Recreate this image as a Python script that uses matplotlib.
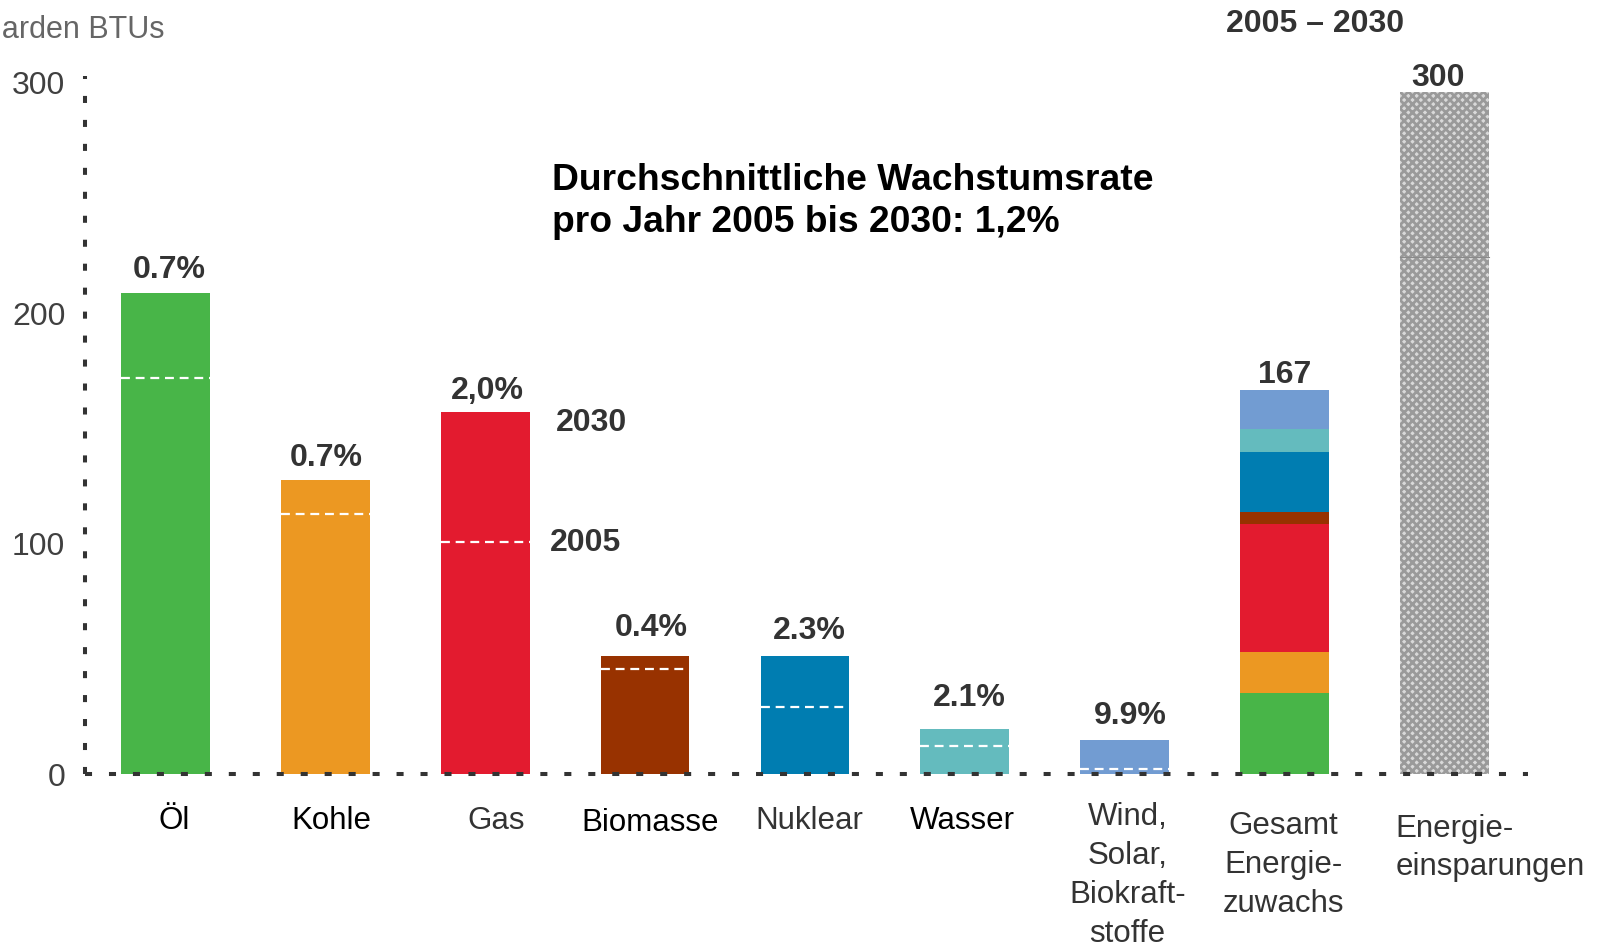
import matplotlib
matplotlib.use("Agg")
import matplotlib.pyplot as plt
import numpy as np

plt.rcParams['font.family'] = ['Liberation Sans', 'DejaVu Sans']
plt.rcParams['hatch.linewidth'] = 2.0

# ---------------- data ----------------
categories = ["Öl", "Kohle", "Gas", "Biomasse", "Nuklear", "Wasser",
              "Wind,\nSolar,\nBiokraft-\nstoffe", "Gesamt\nEnergie-\nzuwachs",
              "Energie-\neinsparungen"]
values_2030 = [209, 127.6, 157.3, 51.4, 51.4, 19.9, 15.0]
values_2005 = [172, 113, 101, 45.6, 29.2, 12.4, 2.2]
growth_labels = ["0.7%", "0.7%", "2,0%", "0.4%", "2.3%", "2.1%", "9.9%"]
colors = ["#48B548", "#EC9822", "#E31B2F", "#983200", "#007DB1", "#64BBBE", "#729CD2"]
total_growth_segments = [35.4, 17.8, 55.3, 5.4, 26.1, 9.8, 16.8]   # Öl, Kohle, Gas, Biomasse, Nuklear, Wasser, Wind
total_growth_label = "167"
savings_segments = [224.6, 71.6]
savings_label = "300"
yticks = [0, 100, 200, 300]

# ---------------- figure ----------------
fig = plt.figure(figsize=(16.02, 9.46), dpi=100)
ax = fig.add_axes([0.0529, 0.1813, 0.9006, 0.7312])
x = np.arange(len(categories))
w = 0.555

# individual source bars
ax.bar(x[:7], values_2030, width=w, color=colors, zorder=1)
for xi, v in zip(x[:7], values_2005):
    ax.plot([xi - w / 2, xi + w / 2], [v, v], color="white", lw=1.6,
            ls=(0, (4, 2.6)), zorder=2, solid_capstyle="butt")

# stacked total growth
bottom = 0
for seg, c in zip(total_growth_segments, colors):
    ax.bar(x[7], seg, bottom=bottom, width=w, color=c, zorder=1)
    bottom += seg

# energy savings (hatched)
bottom = 0
for seg in savings_segments:
    ax.bar(x[8], seg, bottom=bottom, width=w, facecolor="#d9d9d9",
           hatch="xxxx", edgecolor="#9a9a9a", linewidth=0, zorder=1)
    bottom += seg
ax.plot([x[8] - w / 2, x[8] + w / 2], [savings_segments[0]] * 2,
        color="#8a8a8a", lw=0.8, zorder=2)

# value labels above bars
lab_x_off = [4, 1, 2, 6, 4, 4, 6, 0, -6]
lab_y_off = [14, 14, 13, 20, 17, 22, 16, 7, 5]
tops = values_2030 + [sum(total_growth_segments), sum(savings_segments)]
labels = growth_labels + [total_growth_label, savings_label]
for xi, t, lab, dx, dy in zip(x, tops, labels, lab_x_off, lab_y_off):
    ax.annotate(lab, xy=(xi, t), xytext=(dx * 0.735, dy * 0.735),
                textcoords="offset points", ha="center", va="baseline",
                fontsize=23, fontweight="bold", color="#333333", zorder=6)

# axes styling
ax.set_xlim(-0.505, 8.52)
ax.set_ylim(0, 300)
for s in ax.spines.values():
    s.set_visible(False)
ax.axhline(0, color="#333333", lw=2.9, ls=(0, (1.75, 4.2)), zorder=5,
           clip_on=False, dash_capstyle="butt")
ax.axvline(-0.505, color="#333333", lw=2.9, ls=(0, (1.75, 4.2)), zorder=5,
           clip_on=False, dash_capstyle="butt", ymax=1.01)
ax.set_yticks(yticks)
ax.set_yticklabels([str(t) for t in yticks], fontsize=23, color="#404040")
ax.tick_params(axis="y", length=0, pad=14)
ax.set_xticks([])

# category labels
xl_colors = ["black", "black", "#333333", "black", "#333333", "black",
             "#333333", "#333333", "#333333"]
xl_dx = [9, 6, 11, 5, 4, -2, 3, -1, -48]
xl_dy = [-46, -46, -46, -48, -46, -46, -99, -89, -72]
for i, (xi, lab) in enumerate(zip(x, categories)):
    ha = "left" if i == 8 else "center"
    ax.annotate(lab, xy=(xi, 0), xytext=(xl_dx[i] * 0.735, xl_dy[i] * 0.735),
                textcoords="offset points", ha=ha, va="center",
                multialignment="left" if i == 8 else "center",
                fontsize=22.5, color=xl_colors[i], linespacing=1.39,
                annotation_clip=False)

# annotations
ax.text(2.417, 248.5, "Durchschnittliche Wachstumsrate\npro Jahr 2005 bis 2030: 1,2%",
        fontsize=26.8, fontweight="bold", color="black", ha="left", va="center",
        linespacing=1.26)
ax.text(2.442, 152.3, "2030", fontsize=23, fontweight="bold", color="#333333",
        ha="left", va="center")
ax.text(2.404, 100.2, "2005", fontsize=23, fontweight="bold", color="#333333",
        ha="left", va="center")
ax.text(7.193, 325.5, "2005 – 2030", fontsize=23, fontweight="bold", color="#333333",
        ha="center", va="center", clip_on=False)

fig.text(0.1025, 0.968, "Milliarden BTUs", fontsize=22, color="#666666",
         ha="right", va="center")

fig.savefig("out.png", dpi=100)
